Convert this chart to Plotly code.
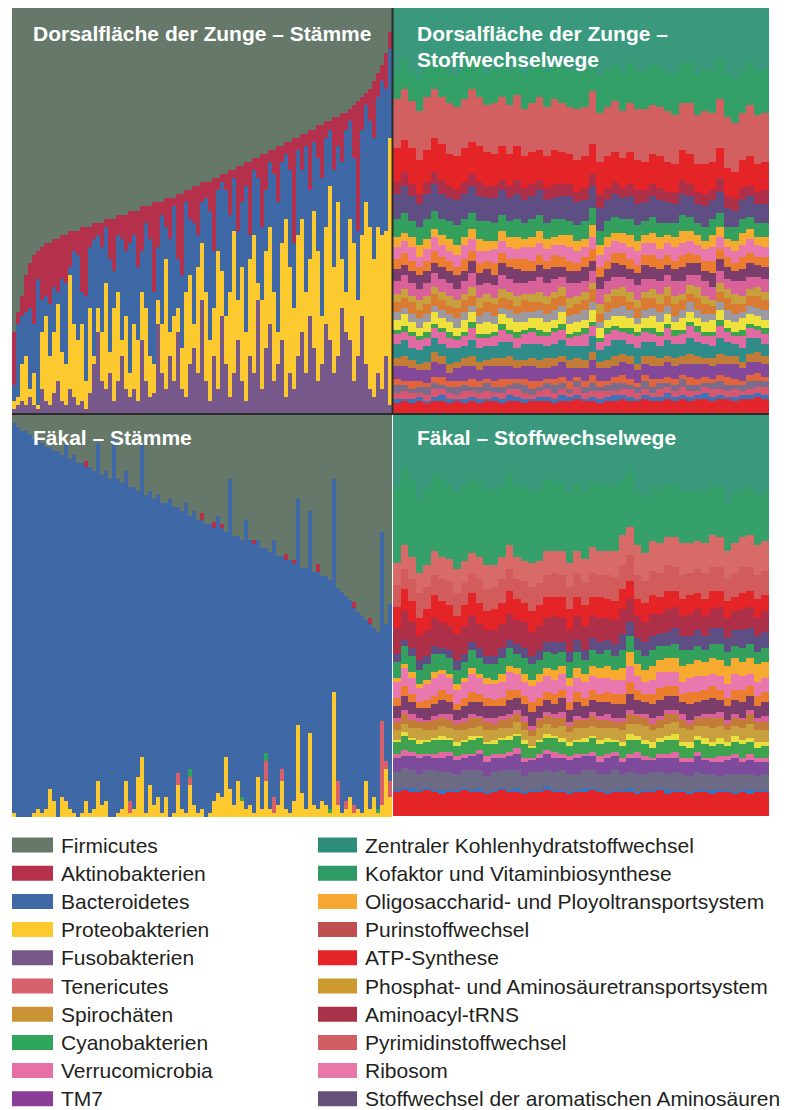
import plotly.graph_objects as go

W, H = 792, 1110

# ================= DATA =================
# --- Dorsalfläche der Zunge – Stämme (95 samples), cumulative boundaries in % from bottom
tl_fuso_top = [1, 2, 3, 2, 4, 2, 1, 6, 3, 2,
               5, 8, 3, 2, 6, 4, 2, 3, 1, 5,
               12, 20, 8, 6, 10, 3, 8, 14, 6, 4,
               6, 3, 18, 8, 4, 5, 22, 10, 6, 14,
               8, 20, 6, 4, 12, 16, 10, 28, 8, 3,
               14, 6, 24, 12, 4, 10, 18, 8, 3, 14,
               10, 28, 6, 16, 22, 8, 12, 18, 4, 10,
               6, 14, 20, 10, 24, 16, 8, 12, 22, 18,
               10, 14, 26, 20, 18, 8, 14, 24, 12, 6,
               4, 10, 6, 14, 2]
tl_proteo_top = [3, 4, 12, 14, 6, 10, 2, 20, 24, 14,
                 20, 27, 15, 12, 34, 22, 18, 22, 8, 26,
                 14, 26, 20, 32, 15, 26, 30, 18, 24, 10,
                 22, 18, 30, 26, 14, 12, 28, 22, 38, 20,
                 24, 26, 16, 30, 34, 22, 36, 42, 30, 18,
                 26, 40, 35, 24, 30, 45, 28, 36, 20, 38,
                 44, 32, 28, 40, 46, 30, 20, 42, 48, 36,
                 26, 44, 48, 30, 38, 50, 40, 24, 46, 56,
                 36, 52, 38, 30, 48, 42, 28, 44, 52, 46,
                 38, 46, 44, 45, 68]
tl_bacter_top = [7, 22, 24, 25, 26, 22, 33, 28, 29, 27,
                 31, 30, 33, 32, 36, 40, 39, 30, 29, 41,
                 43, 44, 41, 46, 38, 35, 44, 43, 40, 42,
                 44, 36, 40, 47, 43, 30, 41, 49, 46, 43,
                 51, 38, 34, 52, 48, 47, 44, 52, 53, 50,
                 40, 55, 57, 55, 49, 58, 45, 52, 56, 44,
                 60, 58, 46, 55, 62, 59, 52, 62, 64, 60,
                 42, 65, 60, 66, 55, 67, 63, 58, 68, 70,
                 60, 66, 62, 70, 72, 63, 45, 70, 76, 72,
                 68, 78, 82, 80, 90]
tl_aktino_top = [20, 25, 29, 34, 37, 39, 40, 41, 42, 42,
                 43, 43, 44, 44, 45, 45, 45, 46, 46, 46,
                 47, 47, 47, 48, 48, 48, 49, 49, 49, 50,
                 50, 50, 51, 51, 51, 52, 52, 52, 53, 53,
                 53, 54, 54, 55, 55, 56, 56, 57, 57, 57,
                 58, 58, 59, 59, 60, 60, 61, 61, 62, 62,
                 63, 63, 64, 64, 65, 65, 66, 66, 67, 67,
                 68, 68, 69, 69, 70, 70, 71, 71, 72, 72,
                 73, 73, 74, 74, 75, 76, 77, 78, 79, 80,
                 82, 84, 86, 89, 94]

# --- Fäkal – Stämme (95 samples), % values
bl_proteo = [1, 0, 0, 0, 0, 1, 2, 1, 2, 7,
             4, 0, 5, 4, 2, 1, 0, 1, 4, 1,
             2, 9, 3, 4, 0, 0, 1, 2, 9, 1,
             2, 10, 15, 1, 8, 3, 5, 1, 5, 0,
             1, 8, 2, 1, 8, 3, 1, 2, 0, 1,
             4, 6, 5, 15, 7, 3, 9, 4, 2, 3,
             1, 10, 2, 9, 2, 1, 3, 9, 2, 1,
             4, 23, 6, 2, 21, 3, 2, 4, 3, 1,
             31, 3, 1, 2, 5, 1, 2, 1, 9, 2,
             5, 1, 3, 12, 5]
bl_teneri = [0, 0, 0, 0, 0, 0, 0, 0, 0, 0,
             0, 0, 0, 0, 0, 0, 0, 0, 0, 0,
             0, 0, 0, 0, 0, 0, 0, 0, 0, 3,
             0, 0, 0, 0, 0, 0, 0, 0, 0, 0,
             0, 3, 0, 0, 2, 0, 0, 0, 0, 0,
             0, 0, 0, 0, 0, 0, 0, 0, 0, 0,
             0, 0, 0, 5, 0, 4, 0, 3, 0, 0,
             0, 0, 0, 0, 0, 0, 0, 0, 0, 0,
             0, 6, 0, 2, 0, 2, 0, 0, 0, 0,
             0, 0, 21, 2, 4]
bl_cyano = [0, 0, 0, 0, 0, 0, 0, 0, 0, 0,
            0, 0, 0, 0, 0, 0, 0, 0, 0, 0,
            0, 0, 0, 0, 0, 0, 0, 0, 0, 0,
            0, 0, 0, 0, 0, 0, 0, 0, 0, 0,
            0, 0, 0, 0, 2, 0, 0, 0, 0, 0,
            0, 0, 0, 0, 0, 0, 0, 1, 0, 0,
            0, 0, 0, 2, 0, 0, 0, 0, 0, 0,
            0, 0, 0, 0, 0, 0, 0, 0, 0, 1,
            0, 0, 0, 0, 0, 0, 0, 0, 0, 0,
            0, 1, 0, 0, 0]
bl_bacter_top = [98, 97, 96, 96, 95, 94, 94, 93, 92, 92,
                 91, 91, 90, 93, 89, 90, 88, 88, 87, 87,
                 86, 93, 85, 86, 84, 94, 84, 83, 86, 82,
                 82, 81, 93, 80, 81, 79, 80, 78, 78, 79,
                 77, 77, 76, 78, 75, 76, 74, 74, 73, 73,
                 72, 75, 72, 71, 84, 70, 70, 69, 74, 69,
                 68, 69, 67, 67, 66, 69, 65, 65, 64, 64,
                 63, 79, 62, 62, 76, 61, 61, 60, 60, 59,
                 84, 57, 56, 55, 54, 52, 51, 50, 49, 48,
                 47, 46, 71, 48, 53]
bl_aktino = [0, 0, 0, 0, 0, 0, 0, 0, 0, 0,
             0, 0, 0, 0, 0, 0, 0, 0, 1.5, 0,
             0, 0, 0, 0, 0, 0, 0, 0, 0, 0,
             0, 0, 0, 0, 0, 0, 0, 0, 0, 0,
             0, 0, 0, 0, 0, 0, 0, 1.5, 0, 0,
             1.5, 0, 1, 0, 0, 0, 0, 0, 0, 0,
             1, 0, 0, 0, 0, 0, 0, 0, 1.5, 0,
             1, 0, 0, 0, 0, 0, 2, 0, 0, 0,
             0, 0, 0, 0, 0, 1.5, 0, 0, 0, 1.5,
             0, 0, 0, 0, 0]

# --- Dorsalfläche der Zunge – Stoffwechselwege (50 samples), band thickness in %, bottom -> top
tr_b01 = [2.5, 3, 2.5, 3, 2.5, 3, 3, 2.5, 3, 2.5, 3, 2.5, 3, 3, 2.5, 3, 3, 2.5, 3, 3,
          3, 2.5, 3, 3, 3.5, 3, 3, 2.5, 3, 3, 3.5, 3, 3, 3.5, 3, 3, 3.5, 3, 3.5, 3,
          3.5, 3.5, 3, 3.5, 3.5, 3, 3.5, 3.5, 4, 3.5]
tr_b02 = [1, 0.5, 1, 1, 0.5, 1, 1.5, 1, 0.5, 1, 1, 1, 0.5, 1, 1, 1.5, 1, 1, 0.5, 1,
          1, 1, 1.5, 1, 1, 0.5, 1, 1, 1, 1.5, 1, 1, 0.5, 1, 1, 1, 1.5, 1, 1, 1,
          1, 1.5, 1, 1, 0.5, 1, 1, 1, 1, 1]
tr_b03 = [1.5, 2, 1.5, 1, 1.5, 2, 1.5, 1.5, 1, 2, 1.5, 1.5, 2, 1, 1.5, 1.5, 2, 1.5, 1, 1.5,
          2, 1.5, 1.5, 1, 2, 1.5, 1.5, 2, 1.5, 1, 1.5, 2, 1.5, 1.5, 1, 2, 1.5, 1.5, 2, 1.5,
          1, 1.5, 2, 1.5, 1.5, 2, 1, 1.5, 1.5, 2]
tr_b04 = [2, 1.5, 1, 1.5, 2, 1.5, 1, 1.5, 2, 1.5, 1, 1.5, 2, 1.5, 1.5, 1, 1.5, 2, 1.5, 1,
          1.5, 2, 1.5, 1, 1.5, 1.5, 2, 1, 1.5, 2, 1.5, 1, 1.5, 2, 1.5, 1.5, 1, 1.5, 2, 1.5,
          1.5, 1, 1.5, 2, 1.5, 1, 1.5, 2, 1.5, 1.5]
tr_b05 = [1.5, 1, 2, 1.5, 1, 1.5, 2, 1.5, 1.5, 1, 2, 1.5, 1, 1.5, 2, 1.5, 1, 1.5, 2, 1.5,
          1, 1.5, 1.5, 2, 1, 1.5, 2, 1.5, 1, 1.5, 2, 1.5, 1, 1.5, 2, 1, 1.5, 1.5, 1, 2,
          1.5, 1.5, 1, 1.5, 2, 1.5, 1, 1.5, 2, 1]
tr_b06 = [3, 3.5, 3, 2.5, 3, 3.5, 3, 2, 3, 3.5, 3, 2.5, 3, 3.5, 3, 3, 2.5, 3, 3.5, 3,
          2.5, 3, 3.5, 3, 2, 3, 3.5, 3, 3, 2.5, 3, 3.5, 3, 2.5, 3, 3, 3.5, 3, 2.5, 3,
          3.5, 3, 3, 2.5, 3, 3.5, 3, 3, 2.5, 3]
tr_b07 = [2, 2.5, 2, 1.5, 2, 2.5, 2, 2, 1.5, 2, 2.5, 2, 1.5, 2, 2, 2.5, 2, 1.5, 2, 2,
          2.5, 2, 1.5, 2, 2.5, 2, 2, 1.5, 2, 2.5, 2, 2, 1.5, 2, 2.5, 2, 1.5, 2, 2, 2.5,
          2, 1.5, 2, 2.5, 2, 2, 1.5, 2, 2.5, 2]
tr_b08 = [3.5, 4, 3, 3.5, 4, 3.5, 3, 4, 3.5, 3, 4, 3.5, 3.5, 3, 4, 3.5, 3, 4, 3.5, 4,
          3, 3.5, 4, 3.5, 3, 3.5, 4, 3, 3.5, 4, 3.5, 3, 4, 3.5, 3.5, 3, 4, 3.5, 3, 4,
          3.5, 3.5, 3, 4, 3.5, 3, 3.5, 4, 3.5, 3]
tr_b09 = [2.5, 2, 3, 2.5, 2, 2.5, 3, 2.5, 2, 2.5, 3, 2.5, 2, 2.5, 3, 2, 2.5, 2.5, 3, 2,
          2.5, 3, 2.5, 2, 2.5, 3, 2.5, 2, 3, 2.5, 2, 2.5, 3, 2.5, 2, 2.5, 3, 2, 2.5, 3,
          2.5, 2, 2.5, 3, 2.5, 2, 3, 2.5, 2, 2.5]
tr_b10 = [1, 1.5, 1, 1, 1.5, 1, 1, 1.5, 1, 1, 1.5, 1, 1, 1, 1.5, 1, 1.5, 1, 1, 1.5,
          1, 1, 1.5, 1, 1, 1.5, 1, 1, 1.5, 1, 1, 1.5, 1, 1, 1.5, 1, 1, 1.5, 1, 1,
          1.5, 1, 1, 1.5, 1, 1, 1.5, 1, 1, 1.5]
tr_b11 = [2.5, 3, 2.5, 2, 2.5, 3, 2.5, 2.5, 2, 3, 2.5, 2.5, 3, 2, 2.5, 3, 2.5, 2, 2.5, 3,
          2.5, 2, 3, 2.5, 2.5, 2, 3, 2.5, 2, 2.5, 3, 2.5, 2, 2.5, 3, 2.5, 2.5, 2, 3, 2.5,
          2, 2.5, 3, 2.5, 2, 2.5, 3, 2.5, 2.5, 2]
tr_b12 = [2, 1.5, 2, 2.5, 2, 1.5, 2, 2, 2.5, 2, 1.5, 2, 2.5, 2, 1.5, 2, 2, 2.5, 1.5, 2,
          2, 2.5, 1.5, 2, 2, 2.5, 2, 1.5, 2, 2, 2.5, 2, 1.5, 2, 2, 2.5, 2, 1.5, 2, 2.5,
          2, 2, 1.5, 2, 2.5, 2, 1.5, 2, 2, 2.5]
tr_b13 = [2.5, 2.5, 3, 2, 2.5, 3, 2.5, 2, 2.5, 3, 2.5, 2, 2.5, 3, 2.5, 2.5, 2, 3, 2.5, 2,
          2.5, 3, 2.5, 2, 2.5, 2.5, 3, 2, 2.5, 3, 2.5, 2, 2.5, 3, 2.5, 2, 2.5, 3, 2.5, 2,
          3, 2.5, 2, 2.5, 3, 2.5, 2, 2.5, 3, 2.5]
tr_b14 = [2, 2, 1.5, 2.5, 2, 1.5, 2, 2.5, 2, 1.5, 2, 2.5, 2, 1.5, 2, 2, 2.5, 1.5, 2, 2.5,
          2, 1.5, 2, 2.5, 2, 2, 1.5, 2.5, 2, 1.5, 2, 2.5, 2, 1.5, 2, 2.5, 2, 2, 1.5, 2,
          2.5, 2, 1.5, 2, 2, 2.5, 2, 1.5, 2, 2]
tr_b15 = [3, 3.5, 3, 2.5, 3, 3.5, 3, 3, 2.5, 3, 3.5, 3, 2.5, 3, 3.5, 3, 3, 2.5, 3, 3.5,
          3, 3, 2.5, 3.5, 3, 2.5, 3, 3.5, 3, 3, 2.5, 3, 3.5, 3, 2.5, 3, 3, 3.5, 3, 2.5,
          3, 3.5, 3, 3, 2.5, 3, 3.5, 3, 2.5, 3]
tr_b16 = [3, 2.5, 3, 3.5, 3, 2.5, 3, 3, 3.5, 2.5, 3, 3, 3.5, 2.5, 3, 3, 3.5, 3, 2.5, 3,
          3.5, 3, 2.5, 3, 3, 3.5, 2.5, 3, 3, 3.5, 3, 2.5, 3, 3.5, 3, 3, 2.5, 3, 3.5, 3,
          3, 2.5, 3.5, 3, 3, 2.5, 3, 3.5, 3, 3]
tr_b17 = [2.5, 3, 2.5, 2, 2.5, 3, 2.5, 2.5, 2, 3, 2.5, 2.5, 2, 3, 2.5, 2, 2.5, 3, 2.5, 2.5,
          2, 3, 2.5, 2.5, 2, 2.5, 3, 2.5, 2, 2.5, 3, 2.5, 2, 2.5, 3, 2.5, 2.5, 2, 3, 2.5,
          2, 2.5, 3, 2.5, 2.5, 2, 3, 2.5, 2, 2.5]
tr_b18 = [3, 3, 3.5, 2.5, 3, 3.5, 3, 2.5, 3, 3.5, 3, 3, 2.5, 3.5, 3, 3, 2.5, 3, 3.5, 3,
          3, 2.5, 3, 3.5, 3, 2.5, 3, 3, 3.5, 3, 2.5, 3, 3.5, 3, 3, 2.5, 3, 3.5, 3, 3,
          2.5, 3, 3.5, 3, 2.5, 3, 3, 3.5, 3, 2.5]
tr_b19 = [2.5, 2, 2.5, 3, 2.5, 2, 2.5, 3, 2.5, 2, 2.5, 3, 2.5, 2, 2.5, 2.5, 3, 2, 2.5, 3,
          2.5, 2, 2.5, 3, 2.5, 2, 3, 2.5, 2.5, 2, 2.5, 3, 2.5, 2, 2.5, 3, 2, 2.5, 3, 2.5,
          2.5, 2, 3, 2.5, 2, 2.5, 3, 2.5, 2, 2.5]
tr_b20 = [4.5, 5, 4, 4.5, 5, 4.5, 4, 4.5, 5, 4.5, 4, 4.5, 5, 4.5, 4, 4, 4.5, 4, 4.5, 4,
          4, 4.5, 4, 3.5, 4, 4.5, 4, 3.5, 4, 4, 3.5, 4, 4, 3.5, 4, 3.5, 3, 3.5, 4, 3.5,
          3, 3.5, 4, 3.5, 3, 3.5, 3.5, 3, 3.5, 3.5]
tr_b21 = [6, 6.5, 6, 5.5, 6, 6.5, 6, 5.5, 6, 6, 6.5, 6, 5.5, 6, 6, 5.5, 6, 5.5, 5.5, 6,
          5.5, 5, 5.5, 6, 5.5, 5, 5.5, 5.5, 5, 5.5, 5, 5.5, 5, 4.5, 5, 5.5, 5, 4.5, 5, 5,
          4.5, 5, 4.5, 5, 4.5, 4, 4.5, 5, 4.5, 4.5]
tr_b22 = [3, 3.5, 3, 2.5, 3, 3, 3.5, 3, 2.5, 3, 3, 3.5, 3, 3, 2.5, 3, 3.5, 3, 3, 2.5,
          3, 3.5, 3, 3, 2.5, 3, 3, 3.5, 3, 3, 2.5, 3, 3.5, 3, 3, 3, 2.5, 3, 3.5, 3,
          3, 3, 2.5, 3.5, 3, 3, 3, 2.5, 3, 3.5]
tr_b23 = [8.5, 8, 9, 8.5, 8, 8.5, 9, 8, 8.5, 8.5, 8, 9, 8.5, 8, 8.5, 8, 8.5, 8, 8, 7.5,
          8, 8.5, 8, 7.5, 8, 8, 7.5, 8, 8, 7.5, 7.5, 8, 7.5, 7, 7.5, 8, 7.5, 7, 7.5, 7.5,
          7, 7.5, 7, 7.5, 7, 6.5, 7, 7.5, 7, 7]
tr_b24 = [12, 12.5, 11.5, 12, 13, 12, 11.5, 12.5, 12, 12, 13, 12, 11.5, 12.5, 12, 12, 12.5, 11.5, 12, 13,
          12, 12.5, 12, 11.5, 12.5, 12, 13, 12, 12, 12.5, 11.5, 12, 12.5, 13, 12, 12, 12.5, 12, 11.5, 12.5,
          12, 13, 12, 12, 12.5, 12, 11.5, 12.5, 12, 12]
tr_b25 = [7, 7.5, 7, 8, 7.5, 7.5, 8, 7.5, 8, 8, 8, 8.5, 8, 8.5, 8, 8.5, 9, 8.5, 8.5, 9,
          9, 8.5, 9, 9, 9.5, 9, 9, 9.5, 9.5, 9, 9.5, 10, 9.5, 9.5, 10, 10, 9.5, 10, 10, 10.5,
          10, 10.5, 10.5, 10, 10.5, 11, 10.5, 11, 11, 11]

# --- Fäkal – Stoffwechselwege (50 samples), band thickness in %, bottom -> top
br_b01 = [6, 6.5, 6, 6, 6.5, 6, 5.5, 6, 6, 6.5, 6, 6, 5.5, 6, 6.5, 6, 6, 5.5, 6, 6,
          6.5, 6, 6, 5.5, 6, 6, 6.5, 6, 5.5, 6, 6, 6, 5.5, 6, 6, 6.5, 5.5, 6, 6, 5.5,
          6, 6, 5.5, 6, 6, 5.5, 6, 5.5, 6, 6]
br_b02 = [0.5, 0.5, 1, 0.5, 0.5, 0.5, 1, 0.5, 0.5, 0.5, 0.5, 1, 0.5, 0.5, 0.5, 0.5, 1, 0.5, 0.5, 0.5,
          1, 0.5, 0.5, 0.5, 0.5, 1, 0.5, 0.5, 0.5, 0.5, 0.5, 1, 0.5, 0.5, 0.5, 0.5, 1, 0.5, 0.5, 0.5,
          0.5, 0.5, 1, 0.5, 0.5, 0.5, 0.5, 1, 0.5, 0.5]
br_b03 = [4.5, 5, 4.5, 4, 4.5, 5, 4.5, 4.5, 4, 4.5, 5, 4.5, 4, 4.5, 4.5, 5, 4.5, 4, 4.5, 4.5,
          4, 4.5, 5, 4.5, 4, 4.5, 4.5, 4, 4.5, 5, 4, 4, 4.5, 4, 4.5, 4, 4, 4.5, 4, 4,
          4.5, 4, 4, 3.5, 4, 4.5, 4, 4, 3.5, 4]
br_b04 = [3.5, 3, 3.5, 4, 3.5, 3, 3.5, 4, 3.5, 3, 3.5, 4, 3.5, 3.5, 3, 3.5, 4, 3.5, 3, 3.5,
          4, 3.5, 3, 3.5, 4, 3.5, 3.5, 3, 4, 3.5, 3, 3.5, 4, 3.5, 3, 3.5, 4, 3.5, 3, 3.5,
          4, 3.5, 3, 3.5, 3.5, 4, 3, 3.5, 3.5, 3]
br_b05 = [1, 1.5, 1, 1, 0.5, 1, 1.5, 1, 1, 1, 0.5, 1, 1.5, 1, 1, 1, 1.5, 1, 0.5, 1,
          1, 1.5, 1, 1, 1, 0.5, 1, 1.5, 1, 1, 1, 1, 1.5, 1, 0.5, 1, 1, 1.5, 1, 1,
          1, 0.5, 1, 1.5, 1, 1, 1, 1.5, 1, 1]
br_b06 = [3, 3.5, 3, 2.5, 3, 3.5, 3, 3, 2.5, 3, 3.5, 3, 3, 2.5, 3.5, 3, 3, 3.5, 2.5, 3,
          3, 3.5, 3, 2.5, 3, 3, 3.5, 3, 3, 2.5, 3, 3.5, 3, 3, 2.5, 3, 3.5, 3, 3, 2.5,
          3, 3.5, 3, 3, 2.5, 3, 3.5, 3, 2.5, 3]
br_b07 = [0.5, 1, 0.5, 1, 0.5, 0.5, 1, 0.5, 1, 0.5, 1, 0.5, 0.5, 1, 0.5, 1, 0.5, 1, 0.5, 0.5,
          1, 0.5, 1, 1, 0.5, 1, 0.5, 1, 1, 0.5, 1, 1.5, 1, 1, 1.5, 1, 1, 1.5, 1, 1.5,
          1, 1.5, 1, 1.5, 1, 1.5, 1, 1, 1.5, 1]
br_b08 = [2.5, 2, 2.5, 3, 2.5, 2, 2.5, 2.5, 3, 2.5, 2, 2.5, 3, 2.5, 2.5, 2, 3, 2.5, 2.5, 3,
          2.5, 2, 3, 2.5, 3, 2.5, 2.5, 3, 2.5, 3, 3, 2.5, 3, 3.5, 3, 2.5, 3, 3, 3.5, 3,
          2.5, 3, 3.5, 3, 3, 2.5, 3, 3.5, 3, 3]
br_b09 = [2, 2.5, 2, 1.5, 2, 2.5, 2, 2, 1.5, 2, 2.5, 2, 2, 1.5, 2, 2.5, 2, 2, 1.5, 2,
          2, 2.5, 2, 1.5, 2, 2, 2.5, 2, 2, 1.5, 2, 2.5, 2, 2, 1.5, 2, 2.5, 2, 2, 1.5,
          2, 2, 2.5, 2, 1.5, 2, 2, 2.5, 2, 2]
br_b10 = [1, 1, 1.5, 1, 0.5, 1, 1, 1.5, 1, 1, 1, 0.5, 1, 1.5, 1, 1, 1, 1.5, 1, 0.5,
          1, 1, 1.5, 1, 1, 0.5, 1, 1, 1.5, 1, 1, 1, 0.5, 1, 1.5, 1, 1, 1, 1.5, 1,
          0.5, 1, 1, 1.5, 1, 1, 0.5, 1, 1, 1.5]
br_b11 = [3, 3.5, 3, 2.5, 3, 3, 3.5, 3, 2.5, 3, 3, 3.5, 3, 3, 2.5, 3.5, 3, 3, 3.5, 3,
          3, 2.5, 3.5, 3, 3.5, 3, 3, 3.5, 3, 3.5, 3.5, 4, 3.5, 3, 3.5, 4, 3.5, 3.5, 3, 4,
          3.5, 3.5, 4, 3, 3.5, 3.5, 4, 3.5, 3, 3.5]
br_b12 = [2, 2.5, 2, 1.5, 2, 2, 2.5, 2, 1.5, 2, 2.5, 2, 2, 1.5, 2, 2.5, 2, 2, 2.5, 2,
          2, 2.5, 2, 2, 2.5, 2, 2.5, 2, 2.5, 2.5, 2.5, 3, 2.5, 2, 2.5, 3, 2.5, 2.5, 2, 3,
          2.5, 2.5, 3, 2.5, 2, 2.5, 3, 2.5, 2.5, 2.5]
br_b13 = [4, 4.5, 4, 3.5, 4, 4.5, 4, 4, 3.5, 4, 4.5, 4, 3.5, 4, 4, 4.5, 4, 3.5, 4, 4,
          4, 3.5, 4, 4, 3.5, 4, 3.5, 4, 3.5, 3.5, 3.5, 4, 3.5, 3, 3.5, 4, 3.5, 3.5, 3, 3.5,
          4, 3.5, 3, 3.5, 3.5, 4, 3.5, 3, 3.5, 3.5]
br_b14 = [1, 1, 1.5, 1, 1, 1.5, 1, 1, 1.5, 1, 1.5, 1, 1.5, 1, 2, 1.5, 1.5, 2, 1.5, 2,
          2, 2.5, 2, 2, 2.5, 2, 2.5, 2.5, 3, 2.5, 3, 3.5, 3, 3, 3.5, 3, 3.5, 3.5, 4, 3.5,
          4, 3.5, 4, 4, 4.5, 4, 3.5, 4, 4.5, 4]
br_b15 = [4, 4.5, 4, 3.5, 4, 4.5, 4, 4, 3.5, 4, 4.5, 4, 3.5, 4, 4, 4.5, 3.5, 4, 4, 3.5,
          4, 4, 3.5, 4, 4, 3.5, 4, 3.5, 4, 3.5, 4.5, 4, 3.5, 3.5, 4, 3.5, 3, 3.5, 4, 3.5,
          3.5, 3, 3.5, 4, 3.5, 3, 3.5, 3.5, 3, 3.5]
br_b16 = [2, 1.5, 2, 2.5, 2, 2, 1.5, 2, 2.5, 2, 2, 2.5, 2, 2, 2.5, 2, 2.5, 2.5, 2, 2.5,
          2.5, 3, 2.5, 2.5, 3, 2.5, 3, 3, 2.5, 3, 4, 3.5, 3, 3.5, 3.5, 3, 3.5, 4, 3.5, 3.5,
          4, 3.5, 4, 4, 3.5, 4, 4.5, 4, 4, 4]
br_b17 = [6.5, 7, 6.5, 6, 6.5, 7, 6.5, 6, 6.5, 7, 6.5, 6, 6.5, 6.5, 6, 6.5, 6, 6.5, 6, 6,
          6, 6.5, 6, 5.5, 6, 6, 5.5, 6, 5.5, 6, 6, 5.5, 5.5, 5, 5.5, 5, 5.5, 5, 5, 5.5,
          5, 5, 4.5, 5, 5, 4.5, 5, 5, 4.5, 5]
br_b18 = [5, 5.5, 5, 4.5, 5, 5.5, 5, 5, 4.5, 5, 5.5, 5, 4.5, 5, 5, 5.5, 5, 4.5, 5, 5,
          5, 4.5, 5, 5, 4.5, 5, 4.5, 5, 4.5, 4.5, 5, 4.5, 4, 4.5, 4.5, 4, 4.5, 4, 4, 4.5,
          4, 4, 4.5, 4, 4, 3.5, 4, 4, 4.5, 4]
br_b19 = [5.5, 5, 5.5, 6, 5.5, 5, 5.5, 6, 5.5, 5.5, 5, 6, 5.5, 5.5, 6, 5.5, 5, 5.5, 6, 5.5,
          5.5, 6, 5.5, 5.5, 6, 5.5, 6, 5.5, 6, 6, 6, 6.5, 6, 5.5, 6, 6, 6.5, 6, 6, 5.5,
          6, 6.5, 6, 6, 5.5, 6, 6.5, 6, 6, 6]
br_b20 = [5.5, 6, 5.5, 5, 5.5, 6, 5.5, 5.5, 6, 5.5, 5, 5.5, 6, 5.5, 5.5, 6, 5.5, 5, 6, 5.5,
          6, 5.5, 6, 6, 5.5, 6, 6.5, 6, 6, 6.5, 7.5, 7, 7.5, 7, 7.5, 7.5, 7, 7.5, 8, 7.5,
          7, 7.5, 8, 7.5, 7, 7.5, 7.5, 8, 7.5, 7.5]
br_b21 = [19, 19.5, 19, 18.5, 19, 19, 19.5, 18.5, 19, 19, 18.5, 19, 19, 18.5, 18, 18.5, 18, 18.5, 18, 17.5,
          18, 17.5, 17, 17.5, 17, 17, 16.5, 17, 16.5, 16.5, 14, 14, 13.5, 14, 13.5, 13.5, 13, 13.5, 13, 13,
          12.5, 13, 12.5, 12.5, 12, 12.5, 12, 12, 12.5, 12]

# ---- colours ----
C_FIRM, C_AKT, C_BAC, C_PRO, C_FUS = '#66786a', '#b5304a', '#3e68a6', '#fcc92f', '#76598a'
C_TEN, C_SPI, C_CYA, C_VER, C_TM7 = '#d8606a', '#cc9236', '#2ea55a', '#e870a8', '#8a3e98'

tr_colors = ['#e3262b', '#3a74bd', '#d8566e', '#7c6c8c', '#e2643c', '#84489a', '#c27c38',
             '#2f8c88', '#e26aa2', '#3ea24e', '#efe23c', '#9c9aa0', '#d97b32', '#c9a03e',
             '#d8619a', '#7b3e6c', '#ec7c2e', '#e878ae', '#f6aa30', '#33a05e', '#5f4e84',
             '#ad2f48', '#e52428', '#d26060', '#33a068']
TOP_TEAL = '#3a987c'
br_colors = ['#e52428', '#3a74bd', '#6d6a86', '#7e4a9c', '#e06aa2', '#3ea24e', '#e8e040',
             '#c9a03e', '#c27c38', '#d8619a', '#7b3e6c', '#ec7c2e', '#e878ae', '#f6aa30',
             '#33a05e', '#5f4e84', '#ad2f48', '#e52428', '#d25c5c', '#d86a68', '#35a06a']

legend_left = ['Firmicutes', 'Aktinobakterien', 'Bacteroidetes', 'Proteobakterien', 'Fusobakterien',
               'Tenericutes', 'Spirochäten', 'Cyanobakterien', 'Verrucomicrobia', 'TM7']
legend_left_colors = [C_FIRM, C_AKT, C_BAC, C_PRO, C_FUS, C_TEN, C_SPI, C_CYA, C_VER, C_TM7]
legend_right = ['Zentraler Kohlenhydratstoffwechsel', 'Kofaktor und Vitaminbiosynthese',
                'Oligosaccharid- und Ployoltransportsystem', 'Purinstoffwechsel', 'ATP-Synthese',
                'Phosphat- und Aminosäuretransportsystem', 'Aminoacyl-tRNS', 'Pyrimidinstoffwechsel',
                'Ribosom', 'Stoffwechsel der aromatischen Aminosäuren']
legend_right_colors = ['#2e8c7a', '#2e9a66', '#f7a832', '#c05050', '#e52428', '#cc9a30',
                       '#a83248', '#d05e62', '#e878a8', '#66507a']

tr_bands = [tr_b01, tr_b02, tr_b03, tr_b04, tr_b05, tr_b06, tr_b07, tr_b08, tr_b09, tr_b10,
            tr_b11, tr_b12, tr_b13, tr_b14, tr_b15, tr_b16, tr_b17, tr_b18, tr_b19, tr_b20,
            tr_b21, tr_b22, tr_b23, tr_b24, tr_b25]
br_bands = [br_b01, br_b02, br_b03, br_b04, br_b05, br_b06, br_b07, br_b08, br_b09, br_b10,
            br_b11, br_b12, br_b13, br_b14, br_b15, br_b16, br_b17, br_b18, br_b19, br_b20, br_b21]

for nm, arr, n in [('tl1', tl_fuso_top, 95), ('tl2', tl_proteo_top, 95), ('tl3', tl_bacter_top, 95),
                   ('tl4', tl_aktino_top, 95), ('bl1', bl_proteo, 95), ('bl2', bl_teneri, 95),
                   ('bl3', bl_cyano, 95), ('bl4', bl_bacter_top, 95), ('bl5', bl_aktino, 95)]:
    if len(arr) != n:
        raise ValueError(f'{nm} has {len(arr)}')
for i, a in enumerate(tr_bands):
    if len(a) != 50:
        raise ValueError(f'tr band {i+1} has {len(a)}')
for i, a in enumerate(br_bands):
    if len(a) != 50:
        raise ValueError(f'br band {i+1} has {len(a)}')

# ================= FIGURE =================
fig = go.Figure()
layout = dict(width=W, height=H, margin=dict(l=0, r=0, t=0, b=0),
              paper_bgcolor='white', plot_bgcolor='white',
              barmode='stack', bargap=0, showlegend=False)


def px(x):
    return x / W


def py(y):
    return 1 - y / H


def set_axes(i, x0, x1, y0, y1, n):
    sfx = '' if i == 1 else str(i)
    layout['xaxis' + sfx] = dict(domain=[px(x0), px(x1)], range=[-0.5, n - 0.5], visible=False,
                                 anchor='y' + sfx, fixedrange=True)
    layout['yaxis' + sfx] = dict(domain=[py(y1), py(y0)], range=[0, 100], visible=False,
                                 anchor='x' + sfx, fixedrange=True)
    return 'x' + sfx, 'y' + sfx


def add_stack(axes, series):
    xa, ya = axes
    for vals, col in series:
        fig.add_trace(go.Bar(x=list(range(len(vals))), y=vals, xaxis=xa, yaxis=ya,
                             marker=dict(color=col, line=dict(width=0)),
                             hoverinfo='skip', showlegend=False))


# top-left
ax1 = set_axes(1, 12, 392, 8, 413, 95)
tl_fuso = tl_fuso_top
tl_pro = [b - a for a, b in zip(tl_fuso_top, tl_proteo_top)]
tl_bac = [b - a for a, b in zip(tl_proteo_top, tl_bacter_top)]
tl_akt = [b - a for a, b in zip(tl_bacter_top, tl_aktino_top)]
tl_firm = [100 - a for a in tl_aktino_top]
add_stack(ax1, [(tl_fuso, C_FUS), (tl_pro, C_PRO), (tl_bac, C_BAC), (tl_akt, C_AKT), (tl_firm, C_FIRM)])

# top-right
ax2 = set_axes(2, 393, 769, 8, 413, 50)
tr_top = [100 - sum(col) for col in zip(*tr_bands)]
add_stack(ax2, list(zip(tr_bands, tr_colors)) + [(tr_top, TOP_TEAL)])

# bottom-left
ax3 = set_axes(3, 12, 392, 415, 817, 95)
bl_bac = [t - p - te - c for t, p, te, c in zip(bl_bacter_top, bl_proteo, bl_teneri, bl_cyano)]
bl_firm = [100 - t - a for t, a in zip(bl_bacter_top, bl_aktino)]
add_stack(ax3, [(bl_proteo, C_PRO), (bl_teneri, C_TEN), (bl_cyano, C_CYA), (bl_bac, C_BAC),
                (bl_aktino, C_AKT), (bl_firm, C_FIRM)])

# bottom-right
ax4 = set_axes(4, 393, 769, 415, 816, 50)
br_top = [100 - sum(col) for col in zip(*br_bands)]
add_stack(ax4, list(zip(br_bands, br_colors)) + [(br_top, TOP_TEAL)])

# separators
shapes = [
    dict(type='line', xref='paper', yref='paper', x0=px(392.5), x1=px(392.5), y0=py(8), y1=py(414),
         line=dict(color='#2b2b2b', width=2)),
    dict(type='line', xref='paper', yref='paper', x0=px(12), x1=px(769), y0=py(414), y1=py(414),
         line=dict(color='#2b2b2b', width=2)),
]

annotations = []
TFONT = dict(family='Liberation Sans, Arial, sans-serif', size=21, color='white')
for txt, x, y in [('Dorsalfläche der Zunge – Stämme', 31, 33),
                  ('Dorsalfläche der Zunge –', 415, 33),
                  ('Stoffwechselwege', 415, 59),
                  ('Fäkal – Stämme', 31, 437),
                  ('Fäkal – Stoffwechselwege', 415, 437)]:
    annotations.append(dict(text='<b>' + txt + '</b>', x=px(x), y=py(y), xref='paper', yref='paper',
                            xanchor='left', yanchor='middle', showarrow=False, font=TFONT))

LFONT = dict(family='Liberation Sans, Arial, sans-serif', size=21, color='#231f20')
for k in range(10):
    yc = 845.0 + 28.2 * k
    for names, cols, sx0, sx1, tx in [(legend_left, legend_left_colors, 12, 53, 59),
                                      (legend_right, legend_right_colors, 318, 357, 363)]:
        shapes.append(dict(type='rect', xref='paper', yref='paper', x0=px(sx0), x1=px(sx1),
                           y0=py(yc + 7.5), y1=py(yc - 7.5), fillcolor=cols[k], line=dict(width=0)))
        annotations.append(dict(text=names[k], x=px(tx), y=py(yc), xref='paper', yref='paper',
                                xanchor='left', yanchor='middle', showarrow=False, font=LFONT))

layout['shapes'] = shapes
layout['annotations'] = annotations
fig.update_layout(**layout)
fig.write_html('out.html', config={'displayModeBar': False},
               post_script="document.body.style.margin='0px';")
